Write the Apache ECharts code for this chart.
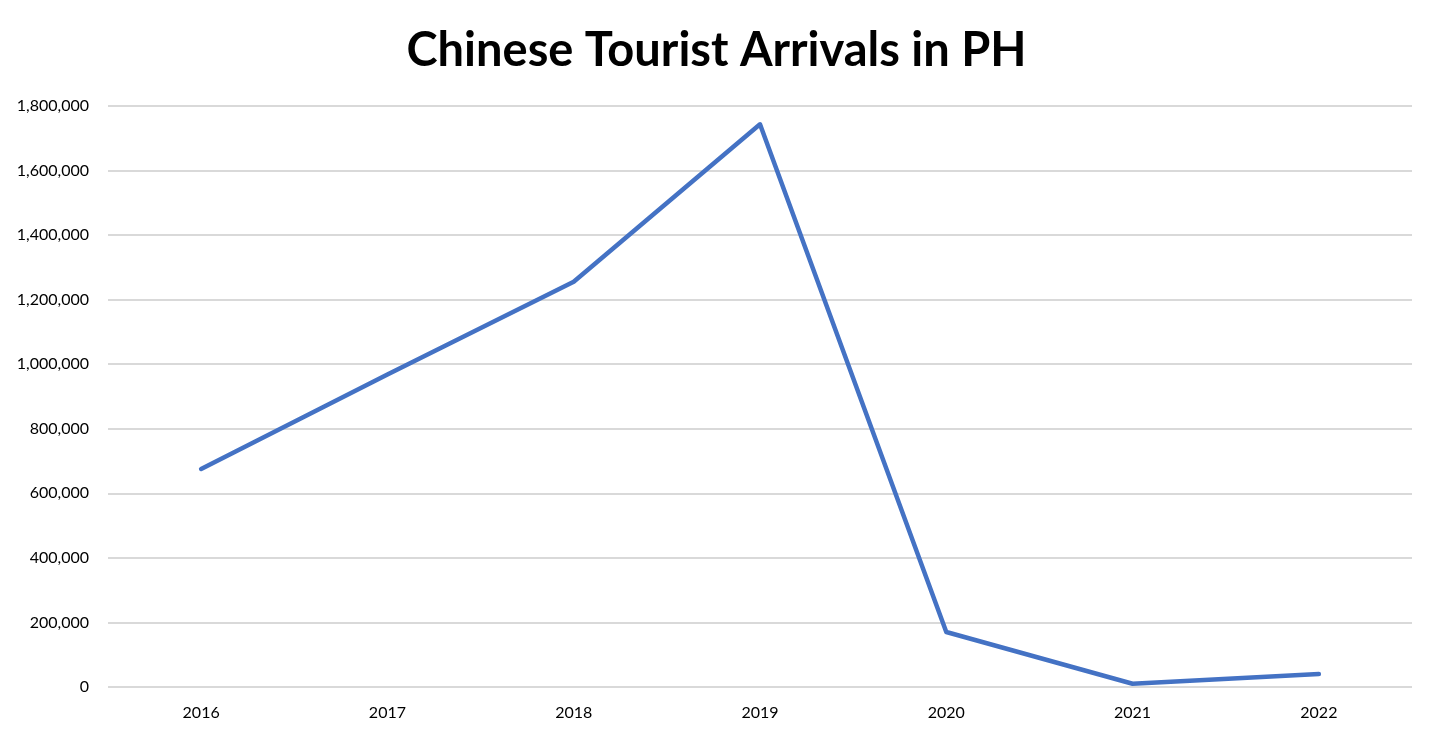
<!DOCTYPE html>
<html>
<head>
<meta charset="utf-8">
<title>Chinese Tourist Arrivals in PH</title>
<script src="https://cdn.jsdelivr.net/npm/echarts@6/dist/echarts.min.js"></script>
<style>
  html, body { margin: 0; padding: 0; background: #fff; }
  #chart { width: 1433px; height: 735px; }
</style>
</head>
<body>
<div id="chart"></div>
<script>
// data
var years = ["2016", "2017", "2018", "2019", "2020", "2021", "2022"];
var arrivals = [675663, 968447, 1255258, 1743309, 170376, 10000, 40000];
var yTicks = [0, 200000, 400000, 600000, 800000, 1000000, 1200000, 1400000, 1600000, 1800000];

var chart = echarts.init(document.getElementById("chart"));

var option = {
    animation: false,
    textStyle: {fontFamily: "Lato, 'Open Sans', sans-serif"},
    title: {
        text: "Chinese Tourist Arrivals in PH",
        left: "center",
        top: 22,
        textStyle: {fontSize: 47, fontWeight: "bold", color: "#000", fontFamily: "Lato, 'Open Sans', sans-serif"}
    },
    grid: {
        left: 108,
        right: 21,
        top: 106,
        bottom: 48
    },
    xAxis: {
        type: "category",
        data: years,
        boundaryGap: true,
        axisLine: {show: false},
        axisTick: {show: false},
        axisLabel: {color: "#000", fontSize: 16, margin: 18}
    },
    yAxis: {
        type: "value",
        min: yTicks[0],
        max: yTicks[yTicks.length - 1],
        interval: yTicks[1] - yTicks[0],
        axisLine: {show: false},
        axisTick: {show: false},
        splitLine: {lineStyle: {color: "#d9d9d9", width: 2}},
        axisLabel: {
            color: "#000",
            fontSize: 16,
            margin: 19,
            formatter: function (v) {
                return v.toLocaleString("en-US");
            }
        }
    },
    series: [{
        type: "line",
        name: "Arrivals",
        data: arrivals,
        showSymbol: false,
        symbol: "none",
        lineStyle: {color: "#4472C4", width: 4.5, cap: "round", join: "round"}
    }]
};

chart.setOption(option);
</script>
</body>
</html>
